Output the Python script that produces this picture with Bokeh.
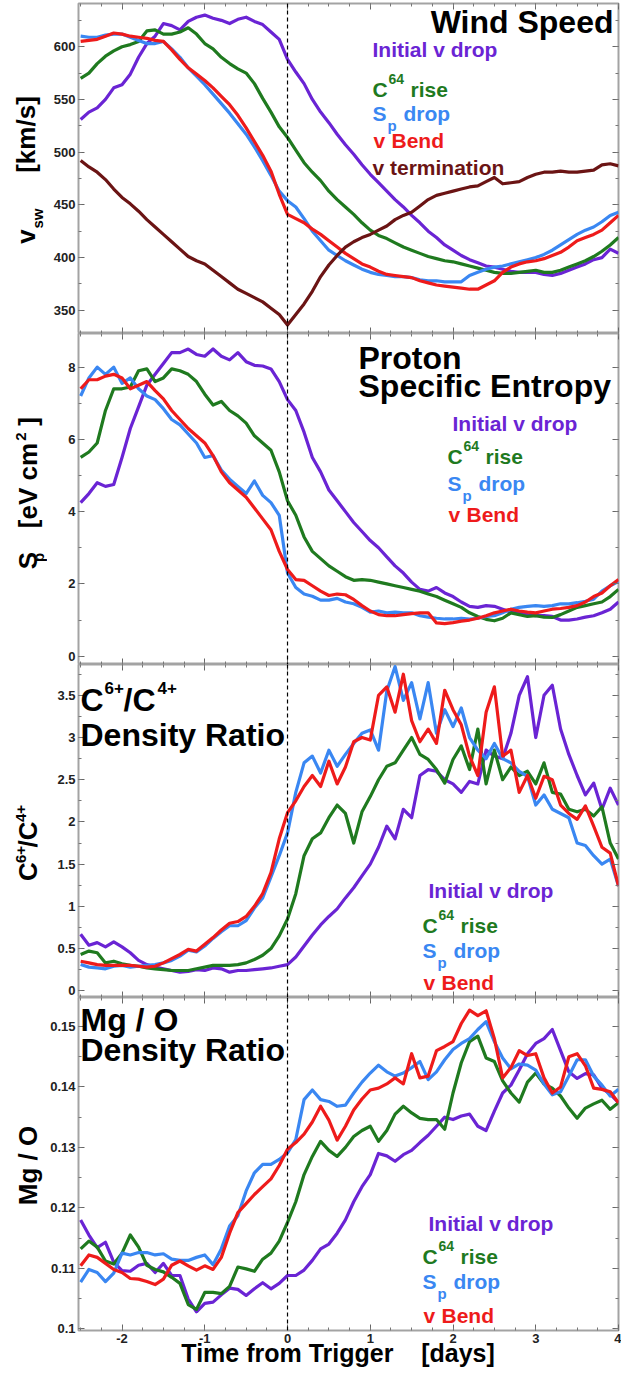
import math
from bokeh.plotting import figure
from bokeh.layouts import column, row
from bokeh.models import (Label, Span, LinearAxis, SingleIntervalTicker,
                          PrintfTickFormatter, Range1d)
from bokeh.embed import file_html
from bokeh.resources import INLINE

# ---------------- data ----------------
time_days = [-2.5, -2.4, -2.3, -2.2, -2.1, -2.0, -1.9, -1.8, -1.7, -1.6,
             -1.5, -1.4, -1.3, -1.2, -1.1, -1.0, -0.9, -0.8, -0.7, -0.6,
             -0.5, -0.4, -0.3, -0.2, -0.1, 0.0, 0.1, 0.2, 0.3, 0.4,
             0.5, 0.6, 0.7, 0.8, 0.9, 1.0, 1.1, 1.2, 1.3, 1.4,
             1.5, 1.6, 1.7, 1.8, 1.9, 2.0, 2.1, 2.2, 2.3, 2.4,
             2.5, 2.6, 2.7, 2.8, 2.9, 3.0, 3.1, 3.2, 3.3, 3.4,
             3.5, 3.6, 3.7, 3.8, 3.9, 4.0]

# Panel 1: wind speed [km/s]
v_initial = [531, 538, 542, 550, 561, 564, 574, 590, 603, 610,
             622, 620, 616, 624, 628, 630, 627, 625, 622, 626,
             628, 624, 621, 614, 607, 588, 576, 565, 550, 538,
             528, 517, 507, 498, 488, 479, 471, 463, 455, 448,
             440, 433, 425, 419, 412, 407, 402, 398, 395, 392,
             391, 389, 387, 386, 386, 386, 384, 383, 385, 388,
             391, 394, 398, 400, 408, 404]
v_c64 = [570, 575, 584, 591, 596, 600, 602, 605, 615, 616,
         612, 612, 614, 618, 612, 603, 598, 590, 584, 579,
         575, 565, 551, 538, 524, 514, 502, 490, 481, 473,
         463, 455, 448, 441, 433, 426, 421, 418, 414, 410,
         407, 404, 401, 399, 397, 396, 394, 392, 390, 388,
         386, 385, 385, 386, 387, 388, 386, 386, 388, 391,
         394, 397, 401, 406, 412, 419]
v_sp = [610, 609, 609, 611, 612, 612, 609, 606, 603, 603,
        605, 598, 590, 580, 572, 564, 555, 546, 537, 527,
        517, 505, 492, 478, 463, 454, 448, 437, 425, 416,
        407, 402, 397, 393, 389, 386, 384, 383, 382, 382,
        381, 379, 378, 378, 377, 377, 377, 383, 386, 389,
        391, 392, 394, 396, 398, 400, 403, 407, 412, 417,
        422, 426, 429, 434, 440, 443]
v_bend = [605, 606, 607, 610, 613, 612, 610, 609, 608, 606,
          605, 597, 588, 580, 574, 568, 561, 553, 545, 535,
          523, 510, 497, 482, 460, 441, 437, 433, 427, 422,
          416, 410, 404, 399, 394, 391, 387, 384, 383, 382,
          381, 378, 376, 374, 373, 372, 371, 370, 370, 374,
          378, 386, 391, 394, 396, 397, 399, 402, 405, 410,
          416, 419, 422, 426, 433, 440]
v_term = [492, 486, 481, 474, 465, 457, 451, 444, 436, 429,
          422, 415, 408, 401, 397, 394, 388, 382, 376, 370,
          366, 362, 358, 352, 346, 336, 346, 356, 368, 382,
          393, 402, 410, 415, 419, 422, 426, 430, 436, 440,
          443, 449, 455, 459, 461, 463, 465, 467, 468, 472,
          476, 470, 471, 472, 476, 479, 481, 481, 482, 481,
          481, 482, 483, 488, 489, 487]

# Panel 2: proton specific entropy [eV cm^2]
sp_initial = [4.25, 4.5, 4.8, 4.7, 4.75, 5.5, 6.3, 6.9, 7.5, 7.8,
              8.1, 8.4, 8.4, 8.5, 8.35, 8.3, 8.5, 8.3, 8.2, 8.4,
              8.15, 8.05, 8.03, 7.95, 7.6, 7.1, 6.8, 6.2, 5.5, 5.1,
              4.6, 4.3, 4.0, 3.7, 3.45, 3.2, 3.0, 2.75, 2.5, 2.3,
              2.05, 1.85, 1.8, 1.9, 1.75, 1.65, 1.5, 1.38, 1.35, 1.4,
              1.38, 1.3, 1.22, 1.2, 1.15, 1.12, 1.12, 1.1, 1.0, 1.0,
              1.03, 1.08, 1.12, 1.2, 1.3, 1.5]
sp_c64 = [5.5, 5.65, 5.9, 6.8, 7.4, 7.4, 7.45, 7.9, 7.95, 7.6,
          7.7, 7.95, 7.9, 7.8, 7.6, 7.25, 6.95, 7.05, 6.8, 6.65,
          6.45, 6.1, 5.9, 5.7, 5.1, 4.3, 3.9, 3.3, 2.9, 2.7,
          2.5, 2.35, 2.2, 2.1, 2.12, 2.1, 2.05, 2.0, 1.95, 1.9,
          1.85, 1.8, 1.72, 1.65, 1.55, 1.45, 1.35, 1.2, 1.1, 1.02,
          0.98, 1.05, 1.2, 1.15, 1.1, 1.12, 1.08, 1.07, 1.15, 1.25,
          1.35, 1.4, 1.45, 1.5, 1.65, 1.85]
sp_sp = [7.2, 7.7, 8.0, 7.8, 8.0, 7.55, 7.7, 7.4, 7.2, 7.1,
         6.85, 6.55, 6.4, 6.15, 5.9, 5.5, 5.55, 5.15, 4.9, 4.7,
         4.5, 4.85, 4.45, 4.25, 3.9, 2.3, 1.9, 1.72, 1.66, 1.55,
         1.55, 1.6, 1.5, 1.45, 1.35, 1.22, 1.25, 1.2, 1.22, 1.2,
         1.2, 1.12, 1.08, 1.05, 1.03, 1.03, 1.05, 1.03, 1.05, 1.1,
         1.12, 1.2, 1.3, 1.35, 1.38, 1.4, 1.38, 1.4, 1.45, 1.45,
         1.48, 1.52, 1.58, 1.8, 1.95, 2.07]
sp_bend = [7.4, 7.65, 7.65, 7.75, 7.8, 7.7, 7.4, 7.5, 7.6, 7.35,
           7.12, 6.8, 6.55, 6.3, 6.1, 5.9, 5.55, 5.1, 4.8, 4.6,
           4.4, 4.1, 3.8, 3.5, 2.9, 2.4, 2.12, 2.1, 1.95, 1.8,
           1.68, 1.72, 1.7, 1.57, 1.4, 1.25, 1.15, 1.12, 1.12, 1.15,
           1.18, 1.2, 1.2, 0.92, 0.9, 0.93, 0.97, 1.0, 1.05, 1.12,
           1.2, 1.25, 1.3, 1.25, 1.22, 1.2, 1.25, 1.3, 1.32, 1.35,
           1.4, 1.5, 1.65, 1.75, 1.95, 2.12]

# Panel 3: C6+/C4+ density ratio
c_initial = [0.67, 0.54, 0.57, 0.52, 0.58, 0.52, 0.45, 0.36, 0.31, 0.28,
             0.26, 0.24, 0.22, 0.23, 0.25, 0.24, 0.27, 0.26, 0.22, 0.24,
             0.24, 0.25, 0.26, 0.27, 0.29, 0.31, 0.4, 0.53, 0.66, 0.78,
             0.88, 0.97, 1.1, 1.22, 1.36, 1.5, 1.7, 1.95, 1.8, 2.15,
             2.05, 2.55, 2.62, 2.6, 2.5, 2.45, 2.35, 2.48, 2.45, 2.85,
             2.78, 2.75, 3.05, 3.5, 3.72, 3.0, 3.5, 3.62, 3.1, 2.8,
             2.55, 2.32, 2.46, 2.15, 2.4, 2.2]
c_c64 = [0.43, 0.47, 0.45, 0.33, 0.35, 0.32, 0.3, 0.29, 0.27, 0.26,
         0.25, 0.24, 0.24, 0.24, 0.26, 0.28, 0.3, 0.3, 0.3, 0.31,
         0.33, 0.37, 0.42, 0.5, 0.65, 0.85, 1.15, 1.6, 1.8, 1.87,
         2.05, 2.2, 2.1, 1.75, 2.12, 2.3, 2.5, 2.66, 2.7, 2.85,
         3.0, 2.8, 2.74, 2.62, 2.46, 2.74, 2.9, 2.62, 3.1, 2.45,
         2.85, 2.5, 2.65, 2.55, 2.6, 2.45, 2.7, 2.35, 2.33, 2.15,
         2.12, 2.15, 2.07, 2.18, 1.75, 1.56]
c_sp = [0.31, 0.28, 0.27, 0.26, 0.29, 0.3, 0.28, 0.29, 0.3, 0.31,
        0.33, 0.36, 0.41, 0.48, 0.46, 0.53, 0.62, 0.7, 0.77, 0.77,
        0.83, 0.98, 1.1, 1.35, 1.6, 1.87, 2.35, 2.7, 2.78, 2.58,
        2.85, 2.66, 2.8, 2.93, 3.05, 3.09, 2.85, 3.55, 3.84, 3.44,
        3.65, 3.22, 3.65, 3.05, 3.33, 3.13, 3.35, 3.0, 2.85, 2.75,
        2.93, 2.75, 2.7, 2.6, 2.54, 2.2, 2.32, 2.15, 2.1, 2.05,
        1.75, 1.72, 1.6, 1.5, 1.56, 1.24]
c_bend = [0.35, 0.33, 0.31, 0.3, 0.3, 0.3, 0.3, 0.29, 0.28, 0.29,
          0.33, 0.38, 0.43, 0.49, 0.47, 0.55, 0.63, 0.72, 0.8, 0.82,
          0.88, 1.0, 1.15, 1.4, 1.8, 2.11, 2.25, 2.42, 2.55, 2.42,
          2.72, 2.45, 2.65, 2.95, 3.0, 2.97, 3.5, 3.6, 3.3, 3.75,
          3.2, 2.95, 3.1, 2.93, 3.56, 3.33, 3.15, 2.78, 2.55, 3.3,
          3.6, 2.78, 2.85, 2.35, 2.55, 2.28, 2.54, 2.5, 2.2, 2.1,
          2.03, 2.19, 1.95, 1.7, 1.63, 1.24]

# Panel 4: Mg / O density ratio
mg_initial = [0.118, 0.1155, 0.1134, 0.1143, 0.111, 0.1096, 0.1095, 0.1105, 0.1108, 0.1093,
              0.1108, 0.1088, 0.1088, 0.1049, 0.1028, 0.1042, 0.1044, 0.1056, 0.1067, 0.1065,
              0.1055, 0.1066, 0.1076, 0.1066, 0.1075, 0.1088, 0.1088, 0.1097, 0.1113, 0.1132,
              0.114, 0.1158, 0.118, 0.121, 0.1235, 0.1255, 0.129, 0.1286, 0.1277, 0.1288,
              0.1295, 0.1308, 0.132, 0.1335, 0.135, 0.1346, 0.1352, 0.1355, 0.1335, 0.1328,
              0.136, 0.139, 0.1403, 0.1428, 0.1455, 0.1472, 0.148, 0.1495, 0.146, 0.1425,
              0.1414, 0.1422, 0.142, 0.1398, 0.1388, 0.1374]
mg_c64 = [0.1132, 0.1145, 0.1135, 0.1112, 0.1107, 0.1125, 0.1155, 0.1135, 0.1105, 0.1098,
          0.1094, 0.1085, 0.1075, 0.104, 0.1032, 0.106, 0.106, 0.1058, 0.107, 0.1102,
          0.1099, 0.1095, 0.1115, 0.1125, 0.1145, 0.1176, 0.121, 0.1255, 0.1285, 0.131,
          0.1295, 0.1285, 0.13, 0.1318, 0.1328, 0.1335, 0.131, 0.1328, 0.1355, 0.1368,
          0.1357, 0.1348, 0.1346, 0.1346, 0.133, 0.139, 0.144, 0.1475, 0.1484, 0.1448,
          0.1442, 0.141, 0.139, 0.1375, 0.1408, 0.1423, 0.1405, 0.1398, 0.1385, 0.1365,
          0.1348, 0.1365, 0.1372, 0.1378, 0.1363, 0.1374]
mg_sp = [0.1077, 0.1098, 0.1093, 0.1078, 0.1092, 0.1125, 0.1122, 0.1126, 0.1126, 0.1122,
         0.1124, 0.1115, 0.1113, 0.1113, 0.1118, 0.1122, 0.1106, 0.1132, 0.117, 0.1187,
         0.1228, 0.1258, 0.1272, 0.1272, 0.128, 0.1291, 0.1313, 0.1379, 0.1395, 0.1379,
         0.1376, 0.1368, 0.137, 0.139, 0.1408, 0.1423, 0.1436, 0.1425, 0.1418, 0.1423,
         0.1432, 0.1442, 0.1412, 0.1425, 0.1445, 0.1462, 0.1472, 0.148, 0.1495, 0.1508,
         0.1475, 0.1448, 0.143, 0.1438, 0.1436, 0.1428, 0.1405, 0.1387, 0.1392, 0.1418,
         0.1445, 0.1445, 0.1418, 0.1403, 0.1385, 0.1396]
mg_bend = [0.1104, 0.1122, 0.1118, 0.1108, 0.1098, 0.1093, 0.1083, 0.1082, 0.1078, 0.1073,
           0.1082, 0.1105, 0.1112, 0.1104, 0.1097, 0.1104, 0.1098, 0.1118, 0.1158, 0.1192,
           0.1207, 0.1222, 0.1235, 0.1248, 0.127, 0.1297, 0.1308, 0.1322, 0.1342, 0.1368,
           0.1345, 0.1312, 0.1335, 0.1362, 0.138, 0.1395, 0.1398, 0.1405, 0.1415, 0.1405,
           0.1455, 0.1415, 0.1418, 0.146, 0.1467, 0.1475, 0.1505, 0.1527, 0.1518, 0.1526,
           0.148, 0.1415, 0.1432, 0.146, 0.1452, 0.1455, 0.1415, 0.139, 0.14, 0.145,
           0.1455, 0.1435, 0.1398, 0.1396, 0.1392, 0.1374]

# ---------------- style ----------------
FONT = "Liberation Sans"
PURPLE = "#6a24d4"
GREEN = "#1f7a1f"
BLUE = "#3a87f2"
RED = "#ee1b1b"
MAROON = "#6b1414"
STRIP_W = 47
FRAME_LEFT = 78
FRAME_W = 540
GRAY = "#a3a3a3"
PAGE_H = 1375
BASE_SHIFT = 0.33   # correction so that the given point is the glyph baseline


def make_panel(ylo, yhi, yint, frame_top, frame_h, top_border, bottom_border, xlabels):
    p = figure(frame_width=FRAME_W, frame_height=frame_h,
               x_range=Range1d(-2.526, 4.0), y_range=Range1d(ylo, yhi),
               output_backend="svg", toolbar_location=None,
               min_border_left=FRAME_LEFT - STRIP_W, min_border_right=3,
               min_border_top=top_border, min_border_bottom=bottom_border,
               x_axis_location=None, y_axis_location=None)
    p.grid.visible = False
    p.outline_line_color = GRAY
    p.outline_line_width = 2
    p.background_fill_color = "white"
    p.border_fill_color = "white"

    def style(ax, labels):
        ax.axis_line_color = None
        ax.major_tick_in = 6
        ax.major_tick_out = 0
        ax.minor_tick_in = 3
        ax.minor_tick_out = 0
        ax.major_tick_line_color = "#666666"
        ax.minor_tick_line_color = "#777777"
        ax.formatter = PrintfTickFormatter(format="%g")
        if labels:
            ax.major_label_text_font = FONT
            ax.major_label_text_font_style = "bold"
            ax.major_label_text_font_size = "13px"
            ax.major_label_text_color = "#222222"
            ax.major_label_standoff = 3
        else:
            ax.major_label_text_font_size = "0px"
            ax.major_label_text_color = None
            ax.major_label_standoff = 0

    for loc, lab in (("left", True), ("right", False)):
        ax = LinearAxis(ticker=SingleIntervalTicker(interval=yint, num_minor_ticks=2))
        style(ax, lab)
        p.add_layout(ax, loc)
    axes_x = []
    for loc, lab in (("below", xlabels), ("above", False)):
        ax = LinearAxis(ticker=SingleIntervalTicker(interval=1, num_minor_ticks=4))
        style(ax, lab)
        p.add_layout(ax, loc)
        axes_x.append(ax)

    p.add_layout(Span(location=0, dimension="height", line_color="black",
                      line_dash="4 3", line_width=1.2))
    p._frame_bottom = frame_top + frame_h
    p._frame_left = FRAME_LEFT
    p._xaxis = axes_x[0]
    return p


def txt(p, px, py, s, size, color="black", align="left", angle=0.0):
    # (px, py): page position of the start/centre of the text baseline
    if angle == 0.0:
        py = py - BASE_SHIFT * size
    else:
        px = px - BASE_SHIFT * size
    p.add_layout(Label(x=px - p._frame_left, y=p._frame_bottom - py,
                       x_units="screen", y_units="screen", text=s,
                       text_font=FONT, text_font_style="bold",
                       text_font_size=f"{size}px", text_color=color,
                       text_align=align, text_baseline="alphabetic", angle=angle))


def vlab(p, bx, cy, s, size):
    txt(p, bx, cy, s, size, align="center", angle=math.pi / 2)


def lines(p, ys, colors):
    for y, c in zip(ys, colors):
        p.line(time_days, y, line_color=c, line_width=3.2, line_join="round")


def legend(p, x_init, x_c, y_init, y_c, y_s, y_v):
    L = 21
    txt(p, x_init, y_init, "Initial v drop", L, PURPLE)
    txt(p, x_c, y_c, "C", L, GREEN)
    txt(p, x_c + 16, y_c - 13, "64", 14, GREEN)
    txt(p, x_c + 38, y_c, "rise", L, GREEN)
    txt(p, x_c, y_s, "S", L, BLUE)
    txt(p, x_c + 15, y_s + 10, "p", 15, BLUE)
    txt(p, x_c + 31, y_s, "drop", L, BLUE)
    txt(p, x_c + 1, y_v, "v", L, RED)
    txt(p, x_c + 19, y_v, "Bend", L, RED)


# ---------------- panel 1 ----------------
p1 = make_panel(328, 641, 50, 3, 330, 3, 0, False)
lines(p1, [v_initial, v_c64, v_sp, v_bend, v_term], [PURPLE, GREEN, BLUE, RED, MAROON])
txt(p1, 613, 32, "Wind Speed", 32, align="right")
legend(p1, 372, 372, 56, 96, 120, 147)
txt(p1, 372, 174, "v termination", 21, MAROON)

# ---------------- panel 2 ----------------
p2 = make_panel(-0.23, 8.93, 2, 333, 331, 0, 0, False)
lines(p2, [sp_initial, sp_c64, sp_sp, sp_bend], [PURPLE, GREEN, BLUE, RED])
txt(p2, 358, 368, "Proton", 32)
txt(p2, 358, 396, "Specific Entropy", 32)
legend(p2, 452, 447, 430, 463, 490, 521)

# ---------------- panel 3 ----------------
p3 = make_panel(-0.08, 3.865, 0.5, 664, 333, 0, 0, False)
lines(p3, [c_initial, c_c64, c_sp, c_bend], [PURPLE, GREEN, BLUE, RED])
txt(p3, 80, 710, "C", 32)
txt(p3, 104, 693, "6+", 17)
txt(p3, 123, 710, "/C", 32)
txt(p3, 157, 693, "4+", 17)
txt(p3, 80, 745, "Density Ratio", 32)
legend(p3, 428, 422, 897, 932, 957, 989)

# ---------------- panel 4 ----------------
p4 = make_panel(0.0997, 0.1548, 0.01, 997, 333, 0, 45, True)
lines(p4, [mg_initial, mg_c64, mg_sp, mg_bend], [PURPLE, GREEN, BLUE, RED])
txt(p4, 80, 1030, "Mg / O", 32)
txt(p4, 80, 1060, "Density Ratio", 32)
legend(p4, 428, 422, 1230, 1263, 1288, 1322)
xa = p4._xaxis
xa.axis_label = "Time from Trigger\u00a0\u00a0\u00a0\u00a0[days]\u00a0\u00a0\u00a0"
xa.axis_label_text_font = FONT
xa.axis_label_text_font_style = "bold"
xa.axis_label_text_font_size = "25px"
xa.axis_label_text_color = "black"
xa.axis_label_standoff = -7

# ---------------- left strip with the y-axis titles ----------------
strip = figure(frame_width=STRIP_W, frame_height=PAGE_H,
               x_range=Range1d(0, 1), y_range=Range1d(0, 1),
               output_backend="svg", toolbar_location=None,
               min_border_left=0, min_border_right=0, min_border_top=0, min_border_bottom=0,
               x_axis_location=None, y_axis_location=None)
strip.grid.visible = False
strip.outline_line_color = None
strip.background_fill_color = "white"
strip.border_fill_color = "white"
strip._frame_bottom = PAGE_H
strip._frame_left = 0

vlab(strip, 34, 236, "v", 26)
vlab(strip, 42, 218, "sw", 15)
vlab(strip, 34, 134, "[km/s]", 26)

vlab(strip, 36, 560, "S", 26)
vlab(strip, 43, 557, "p", 15)
vlab(strip, 36, 485, "[eV cm", 26)
vlab(strip, 25, 436, "2", 15)
vlab(strip, 36, 421, "]", 26)

vlab(strip, 36, 871, "C", 26)
vlab(strip, 25, 854, "6+", 15)
vlab(strip, 36, 834, "/C", 26)
vlab(strip, 25, 813, "4+", 15)

vlab(strip, 36, 1165, "Mg / O", 26)

layout = row(strip, column(p1, p2, p3, p4, spacing=0), spacing=0)
open("out.html", "w").write(file_html(layout, INLINE))
